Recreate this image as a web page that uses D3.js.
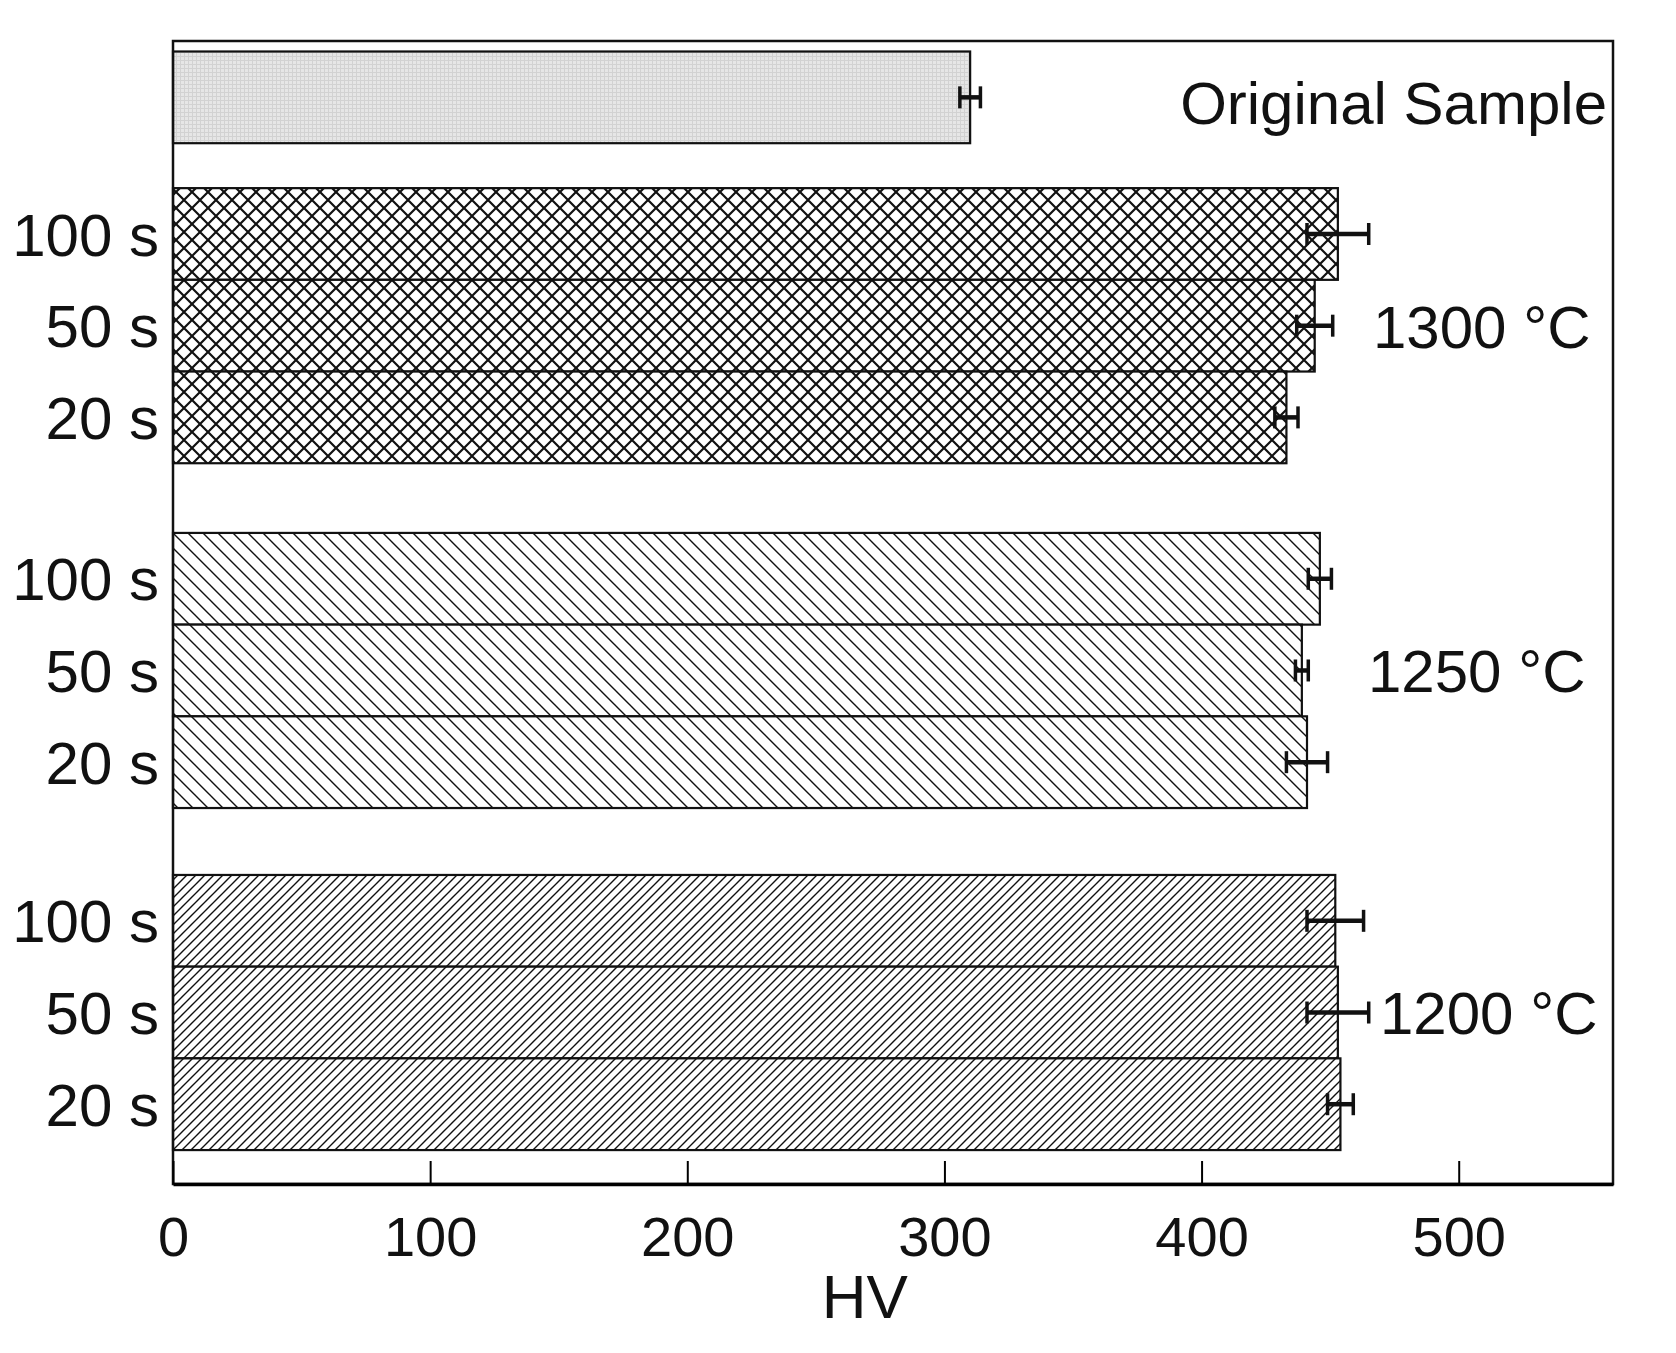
<!DOCTYPE html><html><head><meta charset="utf-8"><script src="https://cdn.jsdelivr.net/npm/d3@7"></script>
<style>body{margin:0;background:#fff}text{font-family:"Liberation Sans",Arial,sans-serif;fill:#111}</style></head><body><svg id="c" width="1676" height="1353"></svg>
<script>
const groups=["Original Sample","1300 °C","1250 °C","1200 °C"];
const times=["100 s","50 s","20 s"];
const originalValue=310, originalErr=4;
const values1300=[453,444,433], err1300=[12,7,4.5];
const values1250=[446,439,441], err1250=[4.5,2.5,8];
const values1200=[452,453,454], err1200=[11,12,5];
const xTicks=[0,100,200,300,400,500];

const svg=d3.select("#c");
const L=173,R=1613,T=41,B=1184;
const x=d3.scaleLinear().domain([0,560]).range([L,R]);
const bh=91.7;
const y=d3.scaleLinear().domain([0,1]).range([T+10.5,T+10.5+bh]);
const defs=svg.append("defs");
function pat(id,w,draw){const p=defs.append("pattern").attr("id",id).attr("patternUnits","userSpaceOnUse").attr("width",w).attr("height",w);p.append("rect").attr("width",w).attr("height",w).attr("fill","#fff");draw(p,w);}
pat("orig",4,(p,w)=>{p.select("rect").attr("fill","#e6e6e6");p.append("path").attr("d","M0,0.5H4M0.5,0V4").attr("stroke","#d2d2d2").attr("stroke-width",1);});
pat("cross",16,(p,w)=>{p.append("path").attr("d",`M0,0L${w},${w}M${w},0L0,${w}`).attr("stroke","#111").attr("stroke-width",2.2);});
pat("back",15,(p,w)=>{p.append("path").attr("d",`M0,0L${w},${w}M${-w},0L${w},${2*w}M0,${-w}L${2*w},${w}`).attr("stroke","#111").attr("stroke-width",1.4);});
pat("fwd",9,(p,w)=>{p.append("path").attr("d",`M0,${w}L${w},0M${-w},${w}L${w},${-w}M0,${2*w}L${2*w},0`).attr("stroke","#111").attr("stroke-width",1.4);});

const bars=[{g:0,t:null,v:originalValue,e:originalErr,pos:0,fill:"url(#orig)"}];
const sets=[[values1300,err1300,1.49,"url(#cross)"],[values1250,err1250,5.25,"url(#back)"],[values1200,err1200,8.98,"url(#fwd)"]];
sets.forEach((s,gi)=>s[0].forEach((v,i)=>bars.push({g:gi+1,t:times[i],v,e:s[1][i],pos:s[2]+i,fill:s[3]})));

svg.selectAll(".bar").data(bars).enter().append("rect").attr("x",x(0)).attr("y",d=>y(d.pos)).attr("width",d=>x(d.v)-x(0)).attr("height",bh).attr("fill",d=>d.fill).attr("stroke","#111").attr("stroke-width",2.2);
const eb=svg.selectAll(".eb").data(bars).enter().append("g").attr("stroke","#111").attr("stroke-width",4.5);
eb.append("line").attr("x1",d=>x(d.v-d.e)).attr("x2",d=>x(d.v+d.e)).attr("y1",d=>y(d.pos+0.5)).attr("y2",d=>y(d.pos+0.5));
[-1,1].forEach(s=>eb.append("line").attr("x1",d=>x(d.v+s*d.e)).attr("x2",d=>x(d.v+s*d.e)).attr("y1",d=>y(d.pos+0.5)-11).attr("y2",d=>y(d.pos+0.5)+11).attr("stroke-width",3.5));
svg.selectAll(".tl").data(bars.filter(d=>d.t)).enter().append("text").attr("x",L-14).attr("y",d=>y(d.pos+0.5)).attr("dy","0.36em").attr("text-anchor","end").attr("font-size",60).text(d=>d.t);
const gl=[{t:groups[0],x:1607,p:0.55,a:"end"},{t:groups[1],x:1373,p:3.0,a:"start"},{t:groups[2],x:1368,p:6.75,a:"start"},{t:groups[3],x:1380,p:10.48,a:"start"}];
svg.selectAll(".gl").data(gl).enter().append("text").attr("x",d=>d.x).attr("y",d=>y(d.p)).attr("dy","0.36em").attr("text-anchor",d=>d.a).attr("font-size",60).text(d=>d.t);
svg.append("rect").attr("x",L).attr("y",T).attr("width",R-L).attr("height",B-T).attr("fill","none").attr("stroke","#111").attr("stroke-width",2.5);
const ax=svg.append("g").attr("transform",`translate(0,${B})`).call(d3.axisBottom(x).tickValues(xTicks).tickSize(-23).tickPadding(32).tickSizeOuter(0));
ax.select(".domain").attr("stroke-width",3.5);
ax.selectAll(".tick line").attr("stroke-width",2);
ax.selectAll("text").attr("font-size",56).style("font-family","Liberation Sans,Arial");
svg.append("text").attr("x",x(269)).attr("y",1318).attr("text-anchor","middle").attr("font-size",62).text("HV");
</script></body></html>
